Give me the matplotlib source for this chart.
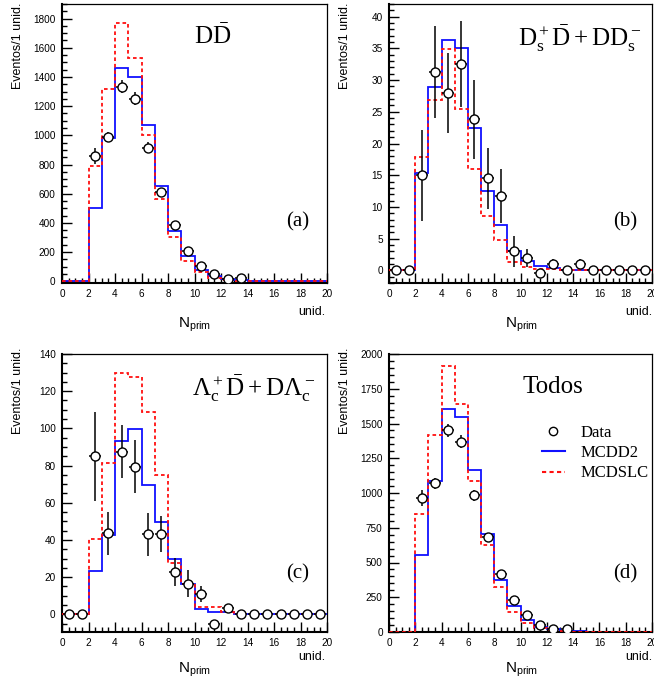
import matplotlib
matplotlib.use("Agg")
import matplotlib.pyplot as plt
from matplotlib.lines import Line2D
from matplotlib.ticker import MultipleLocator
import numpy as np

plt.rcParams['font.family'] = ['Liberation Sans', 'DejaVu Sans']
plt.rcParams['mathtext.fontset'] = 'custom'
plt.rcParams['mathtext.rm'] = 'Liberation Serif'
plt.rcParams['mathtext.it'] = 'Liberation Serif:italic'
plt.rcParams['mathtext.bf'] = 'Liberation Serif:bold'
plt.rcParams['mathtext.sf'] = 'Liberation Sans'

edges = np.arange(0, 21, 1)
centers = edges[:-1] + 0.5

# (a) D Dbar
a_mcdd2 = [0, 0, 500, 985, 1460, 1400, 1070, 655, 345, 170, 80, 35, 15, 8, 4, 3, 2, 1, 1, 1]
a_mcdslc = [0, 0, 790, 1318, 1770, 1530, 1000, 566, 300, 136, 60, 25, 10, 5, 3, 2, 1, 1, 0, 0]
a_x = [2.5, 3.5, 4.5, 5.5, 6.5, 7.5, 8.5, 9.5, 10.5, 11.5, 12.5, 13.5]
a_data = [858, 990, 1334, 1251, 914, 614, 385, 205, 106, 48, 14, 20]
a_err = [55, 35, 45, 45, 38, 28, 22, 16, 12, 8, 5, 5]

# (b) Ds+ Dbar + D Ds-
b_mcdd2 = [0, 0, 15.3, 28.9, 36.3, 35.1, 22.5, 12.5, 7.1, 3.0, 1.4, 0.7, 0.3, 0.1, 0, 0, 0, 0, 0, 0]
b_mcdslc = [0, 0, 17.9, 26.9, 34.9, 25.5, 15.9, 8.6, 4.8, 1.3, 0.6, 0.2, 0.2, 0.1, 0, 0, 0, 0, 0, 0]
b_x = list(centers)
b_data = [0, 0, 15.0, 31.3, 28.0, 32.5, 23.8, 14.5, 11.7, 3.0, 2.0, -0.5, 1.0, 0, 1.0, 0, 0, 0, 0, 0]
b_err = [0, 0, 7.2, 7.3, 6.3, 6.8, 6.2, 4.8, 4.3, 2.4, 1.4, 0.3, 0.8, 0, 0.8, 0, 0, 0, 0, 0]

# (c) Lambda_c+ Dbar + D Lambda_c-
c_mcdd2 = [0, 0, 23.5, 42.4, 93.4, 99.7, 69.8, 49.8, 29.5, 16.1, 3.0, 1.5, 1.5, 0.3, 0, 0, 0, 0, 0, 0]
c_mcdslc = [0, 0, 40.6, 81.5, 129.8, 127.6, 108.8, 74.7, 27.6, 16.1, 4.1, 4.1, 1.5, 0.3, 0, 0, 0, 0, 0, 0]
c_x = list(centers)
c_data = [0, 0, 85, 43.5, 87.5, 79.5, 43, 43.3, 23, 16.5, 11, -5, 3.5, 0, 0, 0, 0, 0, 0, 0]
c_err = [0, 0, 24, 11.4, 14.3, 14, 11.6, 9.8, 7.5, 7.2, 4.5, 1.5, 1.5, 0, 0, 0, 0, 0, 0, 0]

# (d) Todos
d_mcdd2 = [0, 0, 552, 1084, 1604, 1544, 1163, 705, 374, 187, 84, 38, 18, 10, 4, 3, 2, 1, 1, 1]
d_mcdslc = [0, 0, 849, 1420, 1916, 1642, 1089, 624, 324, 144, 65, 28, 12, 6, 3, 2, 1, 1, 0, 0]
d_x = [2.5, 3.5, 4.5, 5.5, 6.5, 7.5, 8.5, 9.5, 10.5, 11.5, 12.5, 13.5]
d_data = [964, 1070, 1451, 1369, 983, 681, 420, 228, 120, 48, 18, 18]
d_err = [60, 38, 45, 45, 38, 28, 22, 15, 12, 8, 5, 5]

W, H = 654, 690
fig = plt.figure(figsize=(W / 100, H / 100), dpi=100)


def box(x0, y0, x1, y1):
    return [x0 / W, 1 - y1 / H, (x1 - x0) / W, (y1 - y0) / H]


def ftext(x, y, s, **kw):
    fig.text(x / W, 1 - y / H, s, **kw)


panels = [
    dict(rect=box(62, 4, 327, 283), mc1=a_mcdd2, mc2=a_mcdslc, x=a_x, y=a_data, e=a_err,
         ylim=(-12, 1900), major=200, minor=50, ox=0, oy=0),
    dict(rect=box(389, 4, 652, 283), mc1=b_mcdd2, mc2=b_mcdslc, x=b_x, y=b_data, e=b_err,
         ylim=(-2, 42), major=5, minor=1, ox=327, oy=0),
    dict(rect=box(62, 354, 327, 632), mc1=c_mcdd2, mc2=c_mcdslc, x=c_x, y=c_data, e=c_err,
         ylim=(-9.5, 140), major=20, minor=5, ox=0, oy=345),
    dict(rect=box(389, 354, 652, 632), mc1=d_mcdd2, mc2=d_mcdslc, x=d_x, y=d_data, e=d_err,
         ylim=(0, 2000), major=250, minor=50, ox=327, oy=345),
]

axes = []
for p in panels:
    ax = fig.add_axes(p['rect'])
    ax.stairs(p['mc1'], edges, color='#1010ff', lw=1.3, zorder=2)
    ax.stairs(p['mc2'], edges, color='#ff1010', lw=1.3, ls=(0, (2.0, 1.6)), zorder=3)
    ax.errorbar(p['x'], p['y'], yerr=p['e'], xerr=0.45, fmt='o', ms=6.5, mfc='white',
                mec='black', mew=1.0, ecolor='black', elinewidth=1.1, capsize=0, zorder=4)
    ax.set_xlim(0, 20)
    ax.set_ylim(*p['ylim'])
    ax.xaxis.set_major_locator(MultipleLocator(2))
    ax.xaxis.set_minor_locator(MultipleLocator(0.5))
    ax.yaxis.set_major_locator(MultipleLocator(p['major']))
    ax.yaxis.set_minor_locator(MultipleLocator(p['minor']))
    ax.tick_params(which='both', direction='in', top=False, right=False, labelsize=7.2)
    ax.tick_params(which='major', length=7, width=1.0, pad=4.5)
    ax.tick_params(which='minor', length=3.5, width=1.0)
    for s in ['left', 'bottom']:
        ax.spines[s].set_linewidth(1.5)
    for s in ['top', 'right']:
        ax.spines[s].set_linewidth(0.9)
    ox, oy = p['ox'], p['oy']
    ftext(ox + 18, oy + 3, 'Eventos/1 unid.', rotation=90, ha='center', va='top', fontsize=9)
    ftext(ox + 325, oy + 312, 'unid.', ha='right', va='center', fontsize=9)
    ftext(ox + 195, oy + 325, r'N$_{\mathsf{prim}}$', ha='center', va='center', fontsize=11)
    axes.append(ax)

ftext(213, 36, r'$\mathrm{D\bar{D}}$', ha='center', va='center', fontsize=18)
ftext(580, 38, r'$\mathrm{D_s^+\bar{D}+DD_s^-}$', ha='center', va='center', fontsize=18)
ftext(254, 388, r'$\mathrm{\Lambda_c^+\bar{D}+D\Lambda_c^-}$', ha='center', va='center', fontsize=18)
ftext(553, 387, 'Todos', ha='center', va='center', fontsize=18, family='Liberation Serif')

for (x, y, s) in [(298, 222, '(a)'), (625, 222, '(b)'), (298, 574, '(c)'), (625, 574, '(d)')]:
    ftext(x, y, s, ha='center', va='center', fontsize=15, family='Liberation Serif')

handles = [
    Line2D([], [], ls='none', marker='o', ms=6, mfc='white', mec='black'),
    Line2D([], [], color='#1010ff', lw=1.5),
    Line2D([], [], color='#ff1010', lw=1.5, ls=(0, (2.0, 1.6))),
]
axes[3].legend(handles, ['Data', 'MCDD2', 'MCDSLC'], loc='upper left',
               bbox_to_anchor=(542 / W, 1 - 425 / H), bbox_transform=fig.transFigure,
               frameon=False, borderpad=0, borderaxespad=0, handlelength=1.35,
               handletextpad=0.95, labelspacing=0.25,
               prop={'family': 'Liberation Serif', 'size': 12})

fig.savefig('out.png', dpi=100)
